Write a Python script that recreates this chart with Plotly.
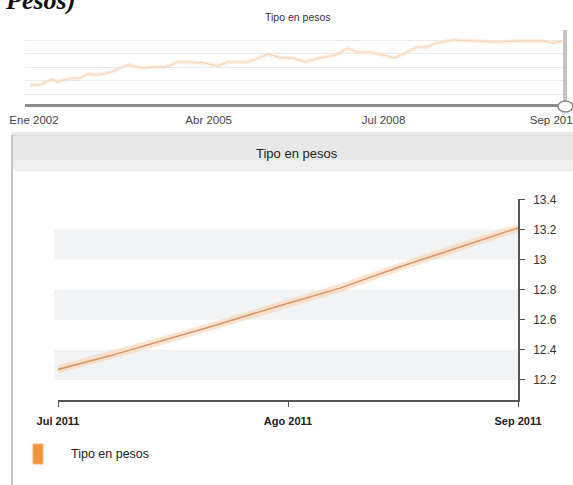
import plotly.graph_objects as go

W, H = 573, 485

# ---------------- data ----------------
overview_dates = ["2001-12-05", "2002-02-10", "2002-05-01", "2002-06-15", "2002-08-15", "2002-11-10",
                  "2003-01-01", "2003-03-10", "2003-06-10", "2003-08-20", "2003-10-10", "2004-01-05",
                  "2004-04-01", "2004-06-10", "2004-09-05", "2004-12-10", "2005-03-05", "2005-06-01",
                  "2005-08-10", "2005-12-20", "2006-03-25", "2006-05-10", "2006-08-10", "2006-10-25",
                  "2007-01-15", "2007-04-25", "2007-08-15", "2007-11-01", "2008-01-01", "2008-04-01",
                  "2008-06-25", "2008-09-15", "2008-11-25", "2009-02-15", "2009-04-20", "2009-06-28",
                  "2009-10-15", "2010-03-01", "2010-08-10", "2011-01-10", "2011-06-15", "2011-08-25",
                  "2011-10-25"]
overview_values = [9.67, 9.67, 10.11, 9.89, 10.11, 10.19,
                   10.48, 10.41, 10.63, 11.00, 11.15, 10.93,
                   11.00, 11.00, 11.37, 11.37, 11.30, 11.07,
                   11.37, 11.37, 11.74, 11.96, 11.67, 11.67,
                   11.37, 11.67, 11.89, 12.41, 12.11, 12.11,
                   11.89, 11.67, 12.04, 12.48, 12.48, 12.78,
                   13.00, 12.93, 12.85, 12.93, 12.93, 12.78,
                   12.93]
overview_tick_dates = ["2002-01-01", "2005-04-01", "2008-07-01", "2011-09-01"]
overview_tick_labels = ["Ene 2002", "Abr 2005", "Jul 2008", "Sep 2011"]

main_dates = ["2011-07-01", "2011-07-08", "2011-07-15", "2011-07-22", "2011-08-01",
              "2011-08-08", "2011-08-16", "2011-08-24", "2011-09-01"]
main_values = [12.27, 12.36, 12.46, 12.56, 12.71, 12.81, 12.95, 13.08, 13.21]
main_tick_dates = ["2011-07-01", "2011-08-01", "2011-09-01"]
main_tick_labels = ["Jul 2011", "Ago 2011", "Sep 2011"]
band_ranges = [(12.2, 12.4), (12.6, 12.8), (13.0, 13.2)]

series_name = "Tipo en pesos"

# ---------------- helpers ----------------
def px(x):
    return x / W

def py(y):
    return 1 - y / H

FONT = "Liberation Sans, Arial, sans-serif"

fig = go.Figure()

# overview traces
fig.add_trace(go.Scatter(x=overview_dates, y=overview_values, mode="lines",
                         line=dict(color="rgba(253,226,202,0.5)", width=4),
                         xaxis="x2", yaxis="y2", hoverinfo="skip", showlegend=False))
fig.add_trace(go.Scatter(x=overview_dates, y=overview_values, mode="lines",
                         line=dict(color="#f5d3b5", width=1),
                         xaxis="x2", yaxis="y2", hoverinfo="skip", showlegend=False))

# main traces
fig.add_trace(go.Scatter(x=main_dates, y=main_values, mode="lines",
                         line=dict(color="rgba(252,206,164,0.5)", width=8),
                         xaxis="x", yaxis="y", hoverinfo="skip", showlegend=False))
fig.add_trace(go.Scatter(x=main_dates, y=main_values, mode="lines",
                         line=dict(color="#d99469", width=1.5),
                         xaxis="x", yaxis="y", hoverinfo="skip", showlegend=False,
                         name=series_name))

shapes = []
# panel header bar and borders
shapes.append(dict(type="line", xref="paper", yref="paper", x0=px(12), x1=1, y0=py(133), y1=py(133),
                   line=dict(color="#d4d4d4", width=1), layer="below"))
shapes.append(dict(type="rect", xref="paper", yref="paper", x0=px(12), x1=1.01, y0=py(171), y1=py(135),
                   fillcolor="#e8e8e8", line=dict(width=0), layer="below"))
shapes.append(dict(type="rect", xref="paper", yref="paper", x0=px(12), x1=1.01, y0=py(171), y1=py(160),
                   fillcolor="#eeeeee", line=dict(width=0), layer="below"))
shapes.append(dict(type="line", xref="paper", yref="paper", x0=px(12), x1=1.01, y0=py(135), y1=py(135),
                   line=dict(color="#cccccc", width=1), layer="below"))
shapes.append(dict(type="line", xref="paper", yref="paper", x0=px(12), x1=px(12), y0=py(135), y1=-0.01,
                   line=dict(color="#c6c6c6", width=2), layer="below"))

# main bands
for lo, hi in band_ranges:
    shapes.append(dict(type="rect", xref="x domain", yref="y", x0=-0.008, x1=1, y0=lo, y1=hi,
                       fillcolor="#f2f3f5", line=dict(width=0), layer="below"))

# overview navigator window and handle
shapes.append(dict(type="rect", xref="paper", yref="paper", x0=px(563), x1=px(567), y0=py(101), y1=py(30),
                   fillcolor="#c4c4c4", line=dict(width=0)))
shapes.append(dict(type="circle", xref="paper", yref="paper", x0=px(558), x1=px(573), y0=py(112), y1=py(101),
                   fillcolor="#ffffff", line=dict(color="#8a8a8a", width=1.5)))

# legend swatch
shapes.append(dict(type="rect", xref="paper", yref="paper", x0=px(33), x1=px(43), y0=py(464), y1=py(444),
                   fillcolor="#f0953e", line=dict(color="#f6b070", width=1)))

annotations = [
    dict(text="Pesos)", xref="paper", yref="paper", x=px(3), y=py(17), xanchor="left", yanchor="bottom",
         showarrow=False, font=dict(family="Liberation Serif, Times New Roman, serif", size=26,
                                    color="#111111", style="italic", weight="bold")),
    dict(text="Tipo en pesos", xref="paper", yref="paper", x=px(298), y=py(17), xanchor="center",
         yanchor="middle", showarrow=False, font=dict(family=FONT, size=10.5, color="#333333")),
    dict(text="Tipo en pesos", xref="paper", yref="paper", x=px(297), y=py(153), xanchor="center",
         yanchor="middle", showarrow=False, font=dict(family=FONT, size=13, color="#222222")),
    dict(text=series_name, xref="paper", yref="paper", x=px(69), y=py(454), xanchor="left",
         yanchor="middle", showarrow=False, font=dict(family=FONT, size=12.5, color="#222222")),
]

fig.update_layout(
    template="none",
    width=W, height=H,
    margin=dict(l=0, r=0, t=0, b=0, pad=0, autoexpand=False),
    paper_bgcolor="white", plot_bgcolor="white",
    showlegend=False,
    hovermode=False,
    shapes=shapes,
    annotations=annotations,
    xaxis=dict(domain=[px(58), px(518)], anchor="y", type="date", automargin=False,
               range=["2011-07-01", "2011-09-01"],
               tickmode="array", tickvals=main_tick_dates, ticktext=main_tick_labels,
               showgrid=False, zeroline=False, showline=True, linecolor="#555555", linewidth=1.5,
               ticks="outside", ticklen=5, tickcolor="#555555", tickwidth=1,
               tickfont=dict(family=FONT, size=11, color="#222222", weight="bold"),
               ticklabelstandoff=5, ticklabeloverflow="allow"),
    yaxis=dict(domain=[py(400), py(199)], anchor="x", side="right", automargin=False,
               range=[12.0667, 13.402], tick0=12.2, dtick=0.2,
               showgrid=False, zeroline=False, showline=True, linecolor="#555555", linewidth=1.5,
               ticks="outside", ticklen=5, tickcolor="#555555",
               tickfont=dict(family=FONT, size=12, color="#333333"),
               ticklabelstandoff=6, ticklabeloverflow="allow"),
    xaxis2=dict(domain=[px(25), px(565)], anchor="y2", type="date", automargin=False,
                range=["2001-11-01", "2011-11-15"],
                tickmode="array", tickvals=overview_tick_dates, ticktext=overview_tick_labels,
                showgrid=False, zeroline=False, showline=True, linecolor="#8c8c8c", linewidth=3,
                ticks="", tickfont=dict(family=FONT, size=11.5, color="#444444"),
                ticklabelstandoff=3, ticklabeloverflow="allow"),
    yaxis2=dict(domain=[py(104), py(27)], anchor="x2", automargin=False,
                range=[8.259, 13.963], tick0=9, dtick=1,
                showgrid=True, gridcolor="#e7ebf0", gridwidth=1,
                zeroline=False, showline=False, showticklabels=False),
)

fig.write_html("out.html", config={"displayModeBar": False},
               post_script="document.body.style.margin='0';document.body.style.overflow='hidden';")
